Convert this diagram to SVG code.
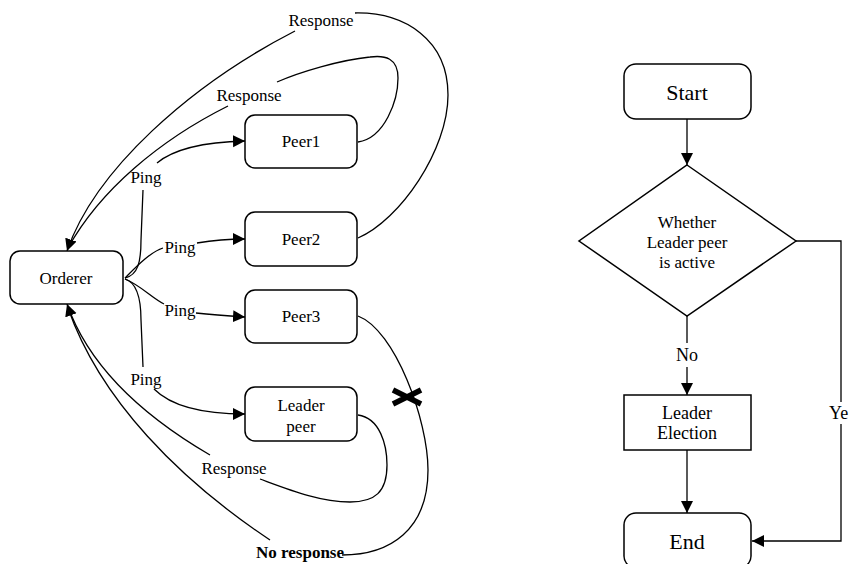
<svg xmlns="http://www.w3.org/2000/svg" width="850" height="564" viewBox="0 0 850 564" font-family="Liberation Serif, DejaVu Serif, serif">
<style>
.box{fill:#fff;stroke:#000;stroke-width:1.5}
.t{font-size:17px;fill:#000;text-anchor:middle;dominant-baseline:central}
.big{font-size:22px}
.mid{font-size:18px}
.b{font-weight:bold}
.e{fill:none;stroke:#000;stroke-width:1.3}
</style>
<defs>
<marker id="ah" markerUnits="userSpaceOnUse" markerWidth="13" markerHeight="13" refX="12" refY="6" orient="auto" viewBox="0 0 13 12">
<path d="M0,0 L12,6 L0,12 z" fill="#000"/>
</marker>
</defs>
<g id="connectors">
<path class="e" d="M125,278 C138,275 141,262 141,240 L143,190"/>
<path class="e" d="M157,163 C175,148 205,142 245,141" marker-end="url(#ah)"/>
<path class="e" d="M125,278 C135,268 150,252 163,248"/>
<path class="e" d="M197,243 C215,240 230,239 245,239" marker-end="url(#ah)"/>
<path class="e" d="M125,279 C140,285 152,298 164,304"/>
<path class="e" d="M196,313 C215,315 230,316 245,317" marker-end="url(#ah)"/>
<path class="e" d="M125,279 C138,283 141,300 141,320 L143,367"/>
<path class="e" d="M154,389 C170,405 200,414 245,414" marker-end="url(#ah)"/>
<path class="e" d="M358,238 C400,220 448,150 448,95 C448,40 405,12 355,13"/>
<path class="e" d="M295,31 C190,85 95,170 67,251" marker-end="url(#ah)"/>
<path class="e" d="M358,142 C385,138 398,100 398,78 C398,58 385,55 370,57 C340,60 300,72 277,82"/>
<path class="e" d="M228,106 C160,140 100,190 68,248"/>
<path class="e" d="M358,415 C380,418 387,445 387,465 C387,492 375,502 350,502 C320,502 290,490 260,479"/>
<path class="e" d="M210,455 C150,420 90,370 67,304" marker-end="url(#ah)"/>
<path class="e" d="M358,316 C395,330 428,420 428,470 C428,530 390,555 342,555"/>
<path class="e" d="M270,540 C180,480 100,400 68,308"/>
<path d="M393,390 L421,404 M393,404 L421,390" stroke="#000" stroke-width="5.5" fill="none"/>
<path class="e" d="M687,119 V165" marker-end="url(#ah)"/>
<path class="e" d="M687,316 V343"/>
<path class="e" d="M687,367 V395" marker-end="url(#ah)"/>
<path class="e" d="M687,450 V513" marker-end="url(#ah)"/>
<path class="e" d="M796,241 H841 V402"/>
<path class="e" d="M841,424 V541 H752" marker-end="url(#ah)"/>
</g>
<g id="labels">
<text class="t" x="321" y="20">Response</text>
<text class="t" x="249" y="95">Response</text>
<text class="t" x="146" y="177">Ping</text>
<text class="t" x="180" y="247">Ping</text>
<text class="t" x="180" y="310">Ping</text>
<text class="t" x="146" y="379">Ping</text>
<text class="t" x="234" y="468">Response</text>
<text class="t b" x="300" y="552">No response</text>
<text class="t mid" x="687" y="355">No</text>
<text class="t mid" x="829" y="413" style="text-anchor:start">Ye</text>
</g>
<g id="orderer">
<rect class="box" x="10" y="251" width="113" height="53" rx="10"/>
<text class="t" x="66" y="278">Orderer</text>
</g>
<g id="peer1">
<rect class="box" x="245" y="115" width="112" height="53" rx="10"/>
<text class="t" x="301" y="141">Peer1</text>
</g>
<g id="peer2">
<rect class="box" x="245" y="212" width="112" height="54" rx="10"/>
<text class="t" x="301" y="239">Peer2</text>
</g>
<g id="peer3">
<rect class="box" x="245" y="290" width="112" height="53" rx="10"/>
<text class="t" x="301" y="316">Peer3</text>
</g>
<g id="leader">
<rect class="box" x="245" y="387" width="112" height="54" rx="10"/>
<text class="t" x="301" y="405">Leader</text>
<text class="t" x="301" y="426">peer</text>
</g>
<g id="start">
<rect class="box" x="624" y="64" width="127" height="55" rx="12"/>
<text class="t big" x="687" y="92">Start</text>
</g>
<g id="decision">
<polygon class="box" points="687,165 796,241 687,316 579,241"/>
<text class="t" x="687" y="222">Whether</text>
<text class="t" x="687" y="242">Leader peer</text>
<text class="t" x="687" y="262">is active</text>
</g>
<g id="election">
<rect class="box" x="624" y="395" width="127" height="55"/>
<text class="t mid" x="687" y="413">Leader</text>
<text class="t mid" x="687" y="433">Election</text>
</g>
<g id="end">
<rect class="box" x="624" y="513" width="127" height="55" rx="12"/>
<text class="t big" x="687" y="541">End</text>
</g>
</svg>
